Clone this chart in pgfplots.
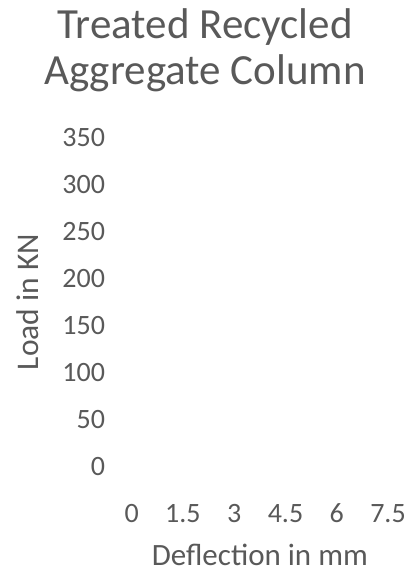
\documentclass[border=0pt]{standalone}
\usepackage{pgfplots}
\pgfplotsset{compat=1.18}
\usepackage{fontspec}
\setmainfont{Carlito}
\definecolor{txt}{HTML}{595959}
\begin{document}
\begin{tikzpicture}
\path[use as bounding box] (0,0) rectangle (410bp,583bp);
\begin{axis}[
  at={(131.7bp,116.3bp)}, anchor=south west,
  scale only axis, width=256.3bp, height=329.4bp,
  xmin=0, xmax=7.5, ymin=0, ymax=350,
  xtick={0,1.5,3,4.5,6,7.5},
  xticklabels={0,1.5,3,4.5,6,7.5},
  ytick={0,50,100,150,200,250,300,350},
  yticklabels={0,50,100,150,200,250,300,350},
  axis line style={draw=none},
  tick style={draw=none},
  /pgf/number format/assume math mode=true,
  ticklabel style={font=\fontsize{28bp}{30bp}\selectfont, text=txt, inner sep=0pt},
  xticklabel style={anchor=center, yshift=-46.5bp},
  yticklabel style={anchor=east, xshift=-26.5bp},
  xlabel={Deflection in mm},
  ylabel={Load in KN},
  xlabel style={at={(axis description cs:0.5,0)}, anchor=base, yshift=-98.5bp, inner sep=0pt, font=\fontsize{31bp}{33bp}\selectfont, text=txt},
  ylabel style={at={(axis description cs:-0.4066,0.5)}, anchor=center, inner sep=0pt, font=\fontsize{31.5bp}{33bp}\selectfont, text=txt},
  title={Treated Recycled\\Aggregate Column},
  title style={at={(axis description cs:0.286,1)}, anchor=south, yshift=39bp, inner sep=0pt, align=center, font=\fontsize{43bp}{46bp}\selectfont, text=txt},
]
\end{axis}
\end{tikzpicture}
\end{document}
